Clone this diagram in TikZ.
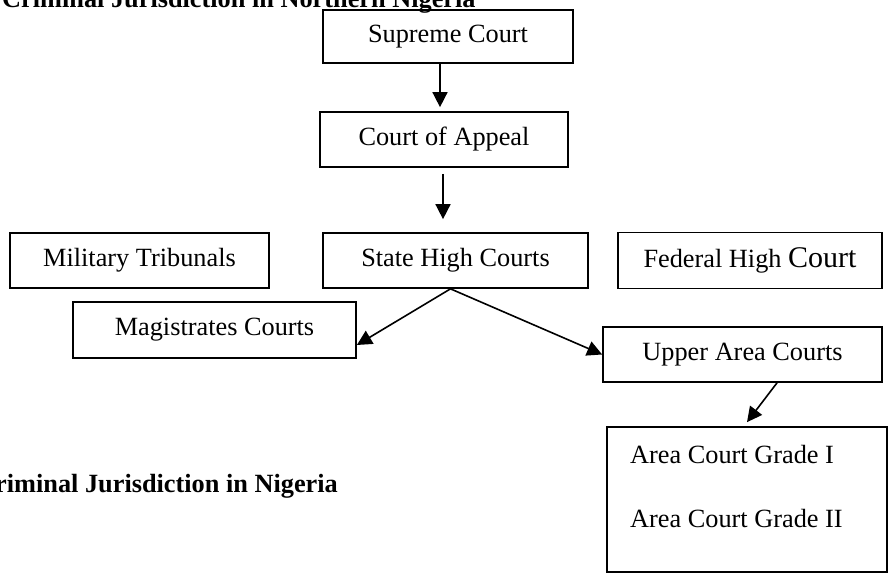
\documentclass[tikz,border=0pt]{standalone}
\usepackage{fontspec}
\setmainfont{Liberation Serif}
\usetikzlibrary{arrows.meta}
\tikzset{court/.style={shape=rectangle, draw=black, line width=1.7pt, inner sep=0pt,
    font=\fontsize{26.3}{30}\selectfont}}
\tikzset{caption/.style={inner sep=0pt, font=\fontsize{26.3}{30}\selectfont\bfseries}}
\tikzset{entry/.style={inner sep=0pt, font=\fontsize{26.3}{30}\selectfont}}
\tikzset{->-/.style={-{Triangle[length=15pt,width=15pt]}, line width=1.6pt}}

\begin{document}
\begin{tikzpicture}[x=1pt,y=-1pt]
\useasboundingbox (0,0) rectangle (890,577);

                \node[caption, anchor=base west] (T1) at (2,8) {Criminal Jurisdiction in Northern Nigeria};
                \node[caption, anchor=base west] (T2) at (-24,492) {Criminal Jurisdiction in Nigeria};

                \node[court, minimum width=250pt, minimum height=53pt] (SC) at (448,36.5) {Supreme Court};
                \node[court, minimum width=248pt, minimum height=55pt] (CA) at (444,139.5) {Court of Appeal};
                \node[court, minimum width=259pt, minimum height=55pt] (MT) at (139.5,260.5) {Military Tribunals};
                \node[court, minimum width=265pt, minimum height=55pt] (SH) at (455.5,260.5) {State High Courts};
                \node[court, minimum width=264pt, minimum height=56pt] (FH) at (750,260.5) {Federal High {\fontsize{30}{30}\selectfont Court}};
                \node[court, minimum width=283pt, minimum height=56pt] (MC) at (214.5,330) {Magistrates Courts};
                \node[court, minimum width=279pt, minimum height=55pt] (UA) at (742.5,354.5) {Upper Area Courts};
                \node[court, minimum width=280pt, minimum height=145pt] (AC) at (747,499.5) {};
                \node[entry, anchor=base west] (G1) at (630,463) {Area Court Grade I};
                \node[entry, anchor=base west] (G2) at (630,527) {Area Court Grade II};

                \draw[->-] ([xshift=-8pt]SC.south) -- ([xshift=-4pt, yshift=4pt]CA.north);
                \draw[->-] ([xshift=-1pt, yshift=-6pt]CA.south) -- ([xshift=-12.5pt, yshift=13pt]SH.north);
                \draw[->-] ([xshift=-5pt]SH.south) -- ([yshift=-15pt]MC.east);
                \draw[->-] ([xshift=-5pt]SH.south) -- (UA.west);
                \draw[->-] ([xshift=34.5pt]UA.south) -- ([yshift=4pt]AC.north);

\end{tikzpicture}
\end{document}
